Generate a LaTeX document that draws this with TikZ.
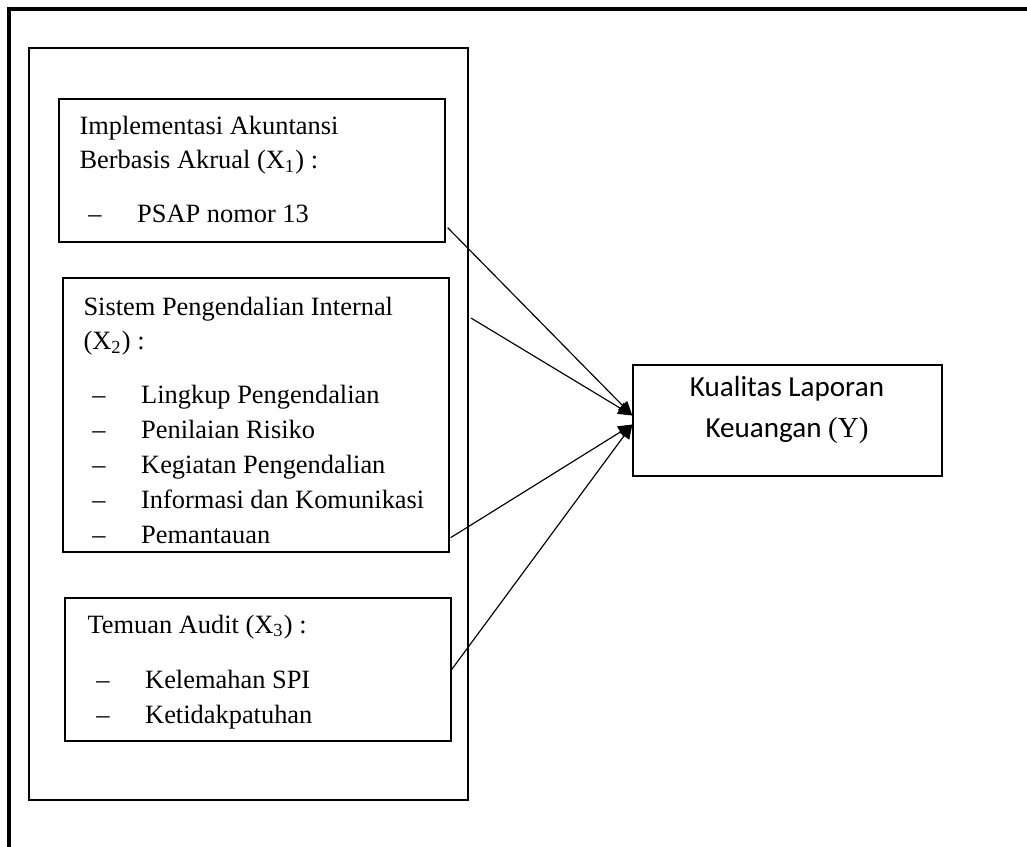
\documentclass[tikz,border=0pt]{standalone}
\usepackage{fontspec}
\setmainfont{Liberation Serif}
\newfontfamily\calibri{Carlito}
\usetikzlibrary{arrows.meta, positioning, fit, calc}

\newcommand{\itm}[1]{\hspace*{3.5pt}\makebox[19pt][l]{–}#1}

\tikzset{
  box/.style={draw, line width=0.5pt, inner sep=0pt},
  txt/.style={anchor=base west, inner sep=0pt, font=\fontsize{10.3}{13.6}\selectfont},
  arr/.style={-{Triangle[length=5.5pt,width=5pt]}, line width=0.45pt},
}

\begin{document}
\begin{tikzpicture}[x=0.39pt, y=-0.39pt]
  \useasboundingbox (0,0) rectangle (1027,846);
  \clip (0,0) rectangle (1027,846);

  % Outer frame (runs off the page)
  \draw[line width=1.2pt] (9,9) rectangle (1060,880);

  % Boxes
  \node[box, fit={(29,48) (468,800)}] (grp) {};
  \node[box, fit={(59,99) (445,242)}] (x1) {};
  \node[box, fit={(63,278) (449,552)}] (x2) {};
  \node[box, fit={(65,598) (451,741)}] (x3) {};
  \node[box, fit={(633,365) (942,476)}] (ylap) {};

  % Texts
  \node[txt] (tx1) at (79,134) {\begin{tabular}[t]{@{}l@{}}
    Implementasi Akuntansi\\
    Berbasis Akrual (X\textsubscript{1}) :\\[7.5pt]
    \itm{PSAP nomor 13}
  \end{tabular}};
  \node[txt] (tx2) at (83,315) {\begin{tabular}[t]{@{}l@{}}
    Sistem Pengendalian Internal\\
    (X\textsubscript{2}) :\\[7.5pt]
    \itm{Lingkup Pengendalian}\\
    \itm{Penilaian Risiko}\\
    \itm{Kegiatan Pengendalian}\\
    \itm{Informasi dan Komunikasi}\\
    \itm{Pemantauan}
  \end{tabular}};
  \node[txt] (tx3) at (87,633) {\begin{tabular}[t]{@{}l@{}}
    Temuan Audit (X\textsubscript{3}) :\\[8pt]
    \itm{Kelemahan SPI}\\
    \itm{Ketidakpatuhan}
  \end{tabular}};
  \node[anchor=base, inner sep=0pt, font=\calibri\fontsize{11.35}{16}\selectfont] (ty) at (787,396)
    {\begin{tabular}[t]{@{}c@{}}Kualitas Laporan\\ Keuangan {\rmfamily (Y)}\end{tabular}};

  % Arrows
  \coordinate (s2) at (471,318);
  \draw[arr] ($(x1.south east)+(2,-15)$) -- ($(ylap.west)+(0,-5)$);
  \draw[arr] (s2) -- ($(ylap.west)+(0,-5)$);
  \draw[arr] ($(x2.south east)+(1,-15)$) -- ($(ylap.west)+(0,4)$);
  \draw[arr] (x3.east) -- ($(ylap.west)+(0,4)$);
\end{tikzpicture}
\end{document}
